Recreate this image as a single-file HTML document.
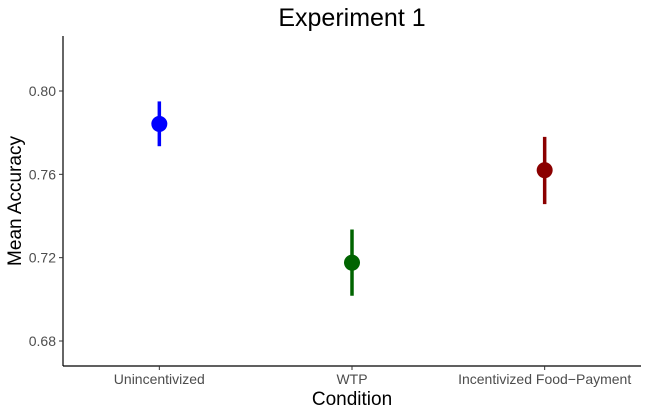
<!DOCTYPE html>
<html><head><meta charset="utf-8"><style>
html,body{margin:0;padding:0;background:#fff;}
svg{display:block;font-family:"Liberation Sans",sans-serif;}
</style></head><body>
<svg id="chart" width="647" height="414">
<text x="352" y="26" font-size="25" text-anchor="middle" fill="#000">Experiment 1</text>
<g id="plot"></g>
<text x="352" y="405" font-size="19" text-anchor="middle">Condition</text>
<text transform="translate(21,201) rotate(-90)" font-size="19" text-anchor="middle">Mean Accuracy</text>
</svg>
<script>
const categories = ["Unincentivized", "WTP", "Incentivized Food\u2212Payment"];
const means = [0.7842, 0.7176, 0.762];
const lower = [0.7735, 0.7017, 0.7457];
const upper = [0.795, 0.7335, 0.778];
const colors = ["#0000ff", "#006400", "#8b0000"];
const yTicks = [0.68, 0.72, 0.76, 0.80];
const yTickLabels = ["0.68", "0.72", "0.76", "0.80"];

(function(){
const NS = "http://www.w3.org/2000/svg";
const g = document.getElementById("plot");
const plotLeft = 63, plotRight = 641, plotTop = 36, plotBottom = 366;
const yMin = 0.668, yMax = 0.8264;
function yS(v){ return plotBottom - (v - yMin) / (yMax - yMin) * (plotBottom - plotTop); }
function xS(i){ const step = (plotRight - plotLeft) / categories.length; return plotLeft + step * (i + 0.5); }
function mk(tag, attrs){ const e = document.createElementNS(NS, tag); for (const k in attrs) e.setAttribute(k, attrs[k]); g.appendChild(e); return e; }

let a = mk("line", {x1:plotLeft, x2:plotLeft, y1:plotTop, y2:plotBottom, stroke:"#000", "stroke-width":1.2});


a = mk("line", {x1:plotLeft, x2:plotRight, y1:plotBottom, y2:plotBottom, stroke:"#000", "stroke-width":1.2});



yTicks.forEach((t, i) => {
  const tk = mk("line", {x1:plotLeft-4, x2:plotLeft, y1:yS(t), y2:yS(t), stroke:"#333", "stroke-width":1});
  
  
  const lb = mk("text", {x:plotLeft-7, y:yS(t)+5, "font-size":14, fill:"#4d4d4d", "text-anchor":"end"});
  lb.textContent = yTickLabels[i];
  
  
});

categories.forEach((c, i) => {
  const tk = mk("line", {x1:xS(i), x2:xS(i), y1:plotBottom, y2:plotBottom+4, stroke:"#333", "stroke-width":1});
  
  
  const lb = mk("text", {x:xS(i), y:plotBottom+18, "font-size":14, fill:"#4d4d4d", "text-anchor":"middle"});
  lb.textContent = c;
  
  
  const eb = mk("line", {x1:xS(i), x2:xS(i), y1:yS(upper[i]), y2:yS(lower[i]), stroke:colors[i], "stroke-width":3.5});
  
  
  const pt = mk("circle", {cx:xS(i), cy:yS(means[i]), r:8, fill:colors[i]});
  
  
});
})();
</script>
</body></html>
